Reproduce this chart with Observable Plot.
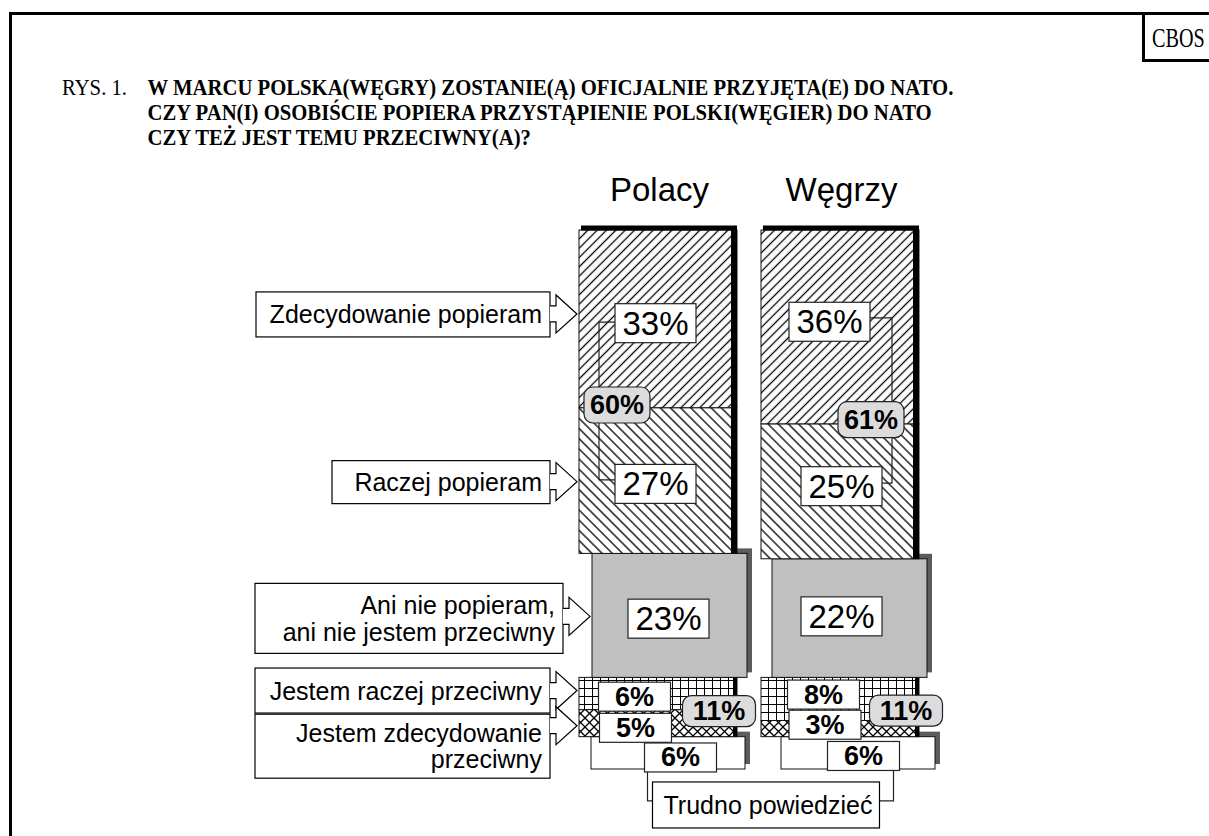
<!DOCTYPE html>
<html lang="pl"><head><meta charset="utf-8">
<script src="https://cdn.jsdelivr.net/npm/d3@7"></script>
<script src="https://cdn.jsdelivr.net/npm/@observablehq/plot@0.6"></script>
<style>
html,body{margin:0;padding:0;background:#fff}
body{width:1209px;height:836px;position:relative;overflow:hidden}
#frame{position:absolute;left:9px;top:12px;width:1260px;height:900px;border-left:3px solid #000;border-top:3px solid #000;box-sizing:border-box}
#cbos{position:absolute;left:1142px;top:12px;width:100px;height:50px;border:3px solid #000;box-sizing:border-box;color:#000}
#cbos span{position:absolute;left:7px;top:9px;font:28px/28px "Liberation Serif",serif;transform:scaleX(0.72);transform-origin:0 0;white-space:nowrap}
#title{position:absolute;left:62px;top:75px;font-family:"Liberation Serif",serif;font-size:23px;line-height:25px;color:#000}
#title .row{white-space:nowrap;position:relative;padding-left:95px;transform:scaleX(0.9);transform-origin:0 0}
#title .rys{position:absolute;left:0;top:0;font-weight:normal}
#chart{position:absolute;left:0;top:160px}
</style></head>
<body>
<div id="frame"></div>
<div id="cbos"><span></span></div>
<div id="title"></div>
<div id="chart"></div>
<script>
// ---------- data ----------
const source = "CBOS";
const titleRys = "RYS. 1.";
const titleLines = [
  "W MARCU POLSKA(WĘGRY) ZOSTANIE(Ą) OFICJALNIE PRZYJĘTA(E) DO NATO.",
  "CZY PAN(I) OSOBIŚCIE POPIERA PRZYSTĄPIENIE POLSKI(WĘGIER) DO NATO",
  "CZY TEŻ JEST TEMU PRZECIWNY(A)?"
];
const groups = ["Polacy", "Węgrzy"];
const categoryLines = [
  ["Zdecydowanie popieram"],
  ["Raczej popieram"],
  ["Ani nie popieram,", "ani nie jestem przeciwny"],
  ["Jestem raczej przeciwny"],
  ["Jestem zdecydowanie", "przeciwny"],
  ["Trudno powiedzieć"]
];
const polacy = [33, 27, 23, 6, 5, 6];
const wegrzy = [36, 25, 22, 8, 3, 6];
const popieraRazem = [60, 61];
const przeciwRazem = [11, 11];

// ---------- header (HTML) ----------
document.querySelector("#cbos span").textContent = source;
const T = document.getElementById("title");
titleLines.forEach((line, i) => {
  const row = document.createElement("div");
  row.className = "row";
  if (i === 0) { const r = document.createElement("span"); r.className = "rys"; r.textContent = titleRys; row.appendChild(r); }
  const b = document.createElement("b"); b.textContent = line; row.appendChild(b);
  T.appendChild(row);
});

// ---------- derived tables ----------
const series = {"Polacy": polacy, "Węgrzy": wegrzy};
const rows = groups.flatMap((g, gi) => {
  let acc = 0;
  return series[g].map((v, ci) => { const r = {group: g, gi, ci, value: v, y1: acc, y2: acc + v}; acc += v; return r; });
});
const supportRows = groups.map((g, gi) => ({group: g, gi, value: popieraRazem[gi], y: series[g][0], kind: "sup"}));
const opposeRows = groups.map((g, gi) => ({group: g, gi, value: przeciwRazem[gi], y: series[g][0] + series[g][1] + series[g][2] + series[g][3], kind: "opp"}));
const edgeRows = groups.map(g => ({group: g, y1: 0, y2: series[g][0] + series[g][1]}));
const lowEdgeRows = groups.map(g => { const s = series[g]; const a = s[0] + s[1] + s[2]; return {group: g, y1: a, y2: a + s[3] + s[4]}; });

// ---------- layout / style ----------
const FONT = "Liberation Sans, Arial, sans-serif";
const fills = ["url(#pUp)", "url(#pDown)", "#c0c0c0", "url(#pGrid)", "url(#pCross)", "#ffffff"];
const shift = {gray: {"Polacy": 13, "Węgrzy": 11}, trudno: {"Polacy": 12, "Węgrzy": 20}};
const labelOffsets = {
  "Polacy": [[-4, 1], [-4, 0], [9, 0], [-25, 0], [-24, 1.5], [21, 1.5]],
  "Węgrzy": [[-12, -8.5], [0, -8.5], [0, -5], [-18, -7.5], [-16.5, -7], [22, 0]]
};
const totalOffsets = {sup: [[-42.5, -6], [29.5, -7.5]], opp: [[59.5, -1.7], [64.5, -13]]};

function raised(ci, key) {
  return groups.flatMap(g => {
    const data = rows.filter(r => r.ci === ci && r.group === g);
    const dx = shift[key][g];
    const ir = key === "gray" ? 5 : 6;
    return [
      Plot.barY(data, {x: "group", y1: "y1", y2: "y2", dx: dx + 5, dy: -5, insetRight: ir, fill: "#5c5c5c"}),
      Plot.barY(data, {x: "group", y1: "y1", y2: "y2", dx, insetRight: ir, fill: fills[ci], stroke: "#111", strokeWidth: 1})
    ];
  });
}

const labelMarks = rows.map(r => {
  const [ox, oy] = labelOffsets[r.group][r.ci];
  const big = r.ci <= 2;
  return Plot.text([r], {
    x: "group", y: d => (d.y1 + d.y2) / 2, text: d => d.value + "%",
    dx: ox, dy: oy + (big ? 3.7 : 3), fontSize: big ? 33 : 27, fontWeight: big ? "normal" : "bold",
    fontFamily: FONT, fill: "#000", className: `lab-g${r.gi}-c${r.ci}`
  });
});
const totalMarks = [...supportRows, ...opposeRows].map(r => {
  const [ox, oy] = totalOffsets[r.kind][r.gi];
  return Plot.text([r], {
    x: "group", y: "y", text: d => d.value + "%", dx: ox, dy: oy + 3,
    fontSize: 27, fontWeight: "bold", fontFamily: FONT, fill: "#000", className: `tot-${r.kind}-g${r.gi}`
  });
});

const chart = Plot.plot({
  width: 1209, height: 676,
  marginTop: 0, marginBottom: 0, marginLeft: 0, marginRight: 0,
  x: {domain: groups, range: [579, 921], paddingInner: 0.121, paddingOuter: 0, axis: null},
  y: {domain: [0, 100], range: [70, 609], axis: null},
  style: {fontFamily: FONT, background: "transparent", overflow: "visible"},
  marks: [
    ...raised(5, "trudno"),
    Plot.barY(rows.filter(r => r.ci === 3 || r.ci === 4), {x: "group", y1: "y1", y2: "y2", insetRight: 2, fill: d => fills[d.ci], stroke: "#111", strokeWidth: 1}),
    Plot.barY(lowEdgeRows, {x: "group", y1: "y1", y2: "y2", insetLeft: 154, insetRight: 2, fill: "#000"}),
    ...raised(2, "gray"),
    Plot.barY(rows.filter(r => r.ci <= 1), {x: "group", y1: "y1", y2: "y2", insetRight: 2, fill: d => fills[d.ci], stroke: "#111", strokeWidth: 1}),
    Plot.barY(edgeRows, {x: "group", y1: "y1", y2: "y2", insetLeft: 152, insetRight: 2, fill: "#000"}),
    Plot.tickY(edgeRows, {x: "group", y: "y1", dy: -2.5, insetLeft: 2, insetRight: 2, stroke: "#000", strokeWidth: 5}),
    Plot.text(groups, {x: d => d, y: () => 0, dy: -30, lineAnchor: "bottom", text: d => d, fontSize: 33, fontFamily: FONT, fill: "#000"}),
    ...labelMarks,
    ...totalMarks
  ]
});
document.getElementById("chart").appendChild(chart);

// ---------- patterns ----------
const ns = "http://www.w3.org/2000/svg";
const defs = document.createElementNS(ns, "defs");
defs.innerHTML = `
<pattern id="pUp" patternUnits="userSpaceOnUse" width="6.6" height="6.6" patternTransform="rotate(45)">
  <rect width="6.6" height="6.6" fill="#fff"/><line x1="3.3" y1="0" x2="3.3" y2="6.6" stroke="#000" stroke-width="1.3"/></pattern>
<pattern id="pDown" patternUnits="userSpaceOnUse" width="7.2" height="7.2" patternTransform="rotate(-45)">
  <rect width="7.2" height="7.2" fill="#fff"/><line x1="3.6" y1="0" x2="3.6" y2="7.2" stroke="#000" stroke-width="1.3"/></pattern>
<pattern id="pGrid" patternUnits="userSpaceOnUse" width="8" height="8">
  <rect width="8" height="8" fill="#fff"/><path d="M0 0.5H8M0.5 0V8" stroke="#000" stroke-width="1"/></pattern>
<pattern id="pCross" patternUnits="userSpaceOnUse" width="9" height="9">
  <rect width="9" height="9" fill="#fff"/><path d="M0 0L9 9M9 0L0 9" stroke="#000" stroke-width="1.3"/></pattern>`;
chart.insertBefore(defs, chart.firstChild);

// ---------- label boxes ----------
const boxes = {};
function boxify(cls, w, h, rx, fill) {
  chart.querySelectorAll(`.${cls} text`).forEach(t => {
    const b = t.getBBox();
    const r = document.createElementNS(ns, "rect");
    r.setAttribute("x", b.x + b.width / 2 - w / 2);
    r.setAttribute("y", b.y + b.height / 2 - h / 2);
    r.setAttribute("width", w); r.setAttribute("height", h);
    r.setAttribute("rx", rx);
    r.setAttribute("fill", fill); r.setAttribute("stroke", "#222"); r.setAttribute("stroke-width", 1.2);
    if (t.getAttribute("transform")) r.setAttribute("transform", t.getAttribute("transform"));
    t.parentNode.insertBefore(r, t);
    boxes[cls] = r;
  });
}
rows.forEach(r => {
  const cls = `lab-g${r.gi}-c${r.ci}`;
  if (r.ci <= 2) boxify(cls, 81, 39, 0, "#fff"); else boxify(cls, 72, 29, 0, "#fff");
});
supportRows.forEach(r => boxify(`tot-sup-g${r.gi}`, 66, 36, 9, "#dcdcdc"));
opposeRows.forEach(r => boxify(`tot-opp-g${r.gi}`, 73, 31, 9, "#dcdcdc"));

const svgBox = chart.getBoundingClientRect();
function rb(cls) { const q = boxes[cls].getBoundingClientRect(); return {l: q.left - svgBox.left, r: q.right - svgBox.left, t: q.top - svgBox.top, b: q.bottom - svgBox.top, cy: (q.top + q.bottom) / 2 - svgBox.top}; }

// ---------- brackets (drawn under labels) ----------
const firstLabel = chart.querySelector(".lab-g0-c0");
const br = document.createElementNS(ns, "g");
br.setAttribute("fill", "none"); br.setAttribute("stroke", "#222"); br.setAttribute("stroke-width", 1.2);
chart.insertBefore(br, firstLabel);
{
  const a = rb("lab-g0-c0"), b = rb("lab-g0-c1");
  const x = Math.min(a.l, b.l) - 16;
  const p = document.createElementNS(ns, "path");
  p.setAttribute("d", `M${a.l},${a.cy - 1}H${x}V${b.cy - 4}H${b.l}`); br.appendChild(p);
}
{
  const a = rb("lab-g1-c0"), b = rb("lab-g1-c1");
  const x = Math.max(a.r, b.r) + 10;
  const p = document.createElementNS(ns, "path");
  p.setAttribute("d", `M${a.r},${a.cy - 4}H${x}V${b.cy - 3}H${b.r}`); br.appendChild(p);
}

// ---------- category legend ----------
const yS = chart.scale("y");
const segMid = ci => { const r = rows.find(d => d.group === groups[0] && d.ci === ci); return yS.apply((r.y1 + r.y2) / 2); };
const legendLayout = [
  {x0: 256, x1: 550, h: 45, shift: -4.5, tip: -5, gap: 26},
  {x0: 332, x1: 550, h: 43, shift: 1.5, tip: 1, gap: 26},
  {x0: 255, x1: 563, h: 70, shift: 3, tip: 1, gap: 27},
  {x0: 255, x1: 550, h: 45, shift: -3, tip: -3, gap: 26},
  {x0: 255, x1: 550, h: 64, shift: 23, tip: 2.5, gap: 26}
];
const lg = d3.select(chart).append("g").attr("font-family", FONT).attr("font-size", 25).attr("fill", "#000");
legendLayout.forEach((L, ci) => {
  const m = segMid(ci), c = m + L.shift, tip = m + L.tip, bx = L.x1;
  lg.append("rect").attr("x", L.x0).attr("y", c - L.h / 2).attr("width", L.x1 - L.x0).attr("height", L.h)
    .attr("fill", "#fff").attr("stroke", "#000").attr("stroke-width", 1.2);
  lg.append("path").attr("d", `M${bx},${tip - 8}H${bx + 6}V${tip - 19}L${bx + 27},${tip}L${bx + 6},${tip + 19}V${tip + 8}H${bx}`)
    .attr("fill", "#fff").attr("stroke", "#000").attr("stroke-width", 1.2);
  const lines = categoryLines[ci], n = lines.length;
  lines.forEach((s, i) => {
    lg.append("text").attr("x", L.x1 - 8).attr("y", c + (i - (n - 1) / 2) * L.gap + 9)
      .attr("text-anchor", "end").attr("stroke", "none").text(s);
  });
});

// Trudno powiedzieć legend + connectors
{
  const a = rb("lab-g0-c5"), b = rb("lab-g1-c5");
  const boxL = a.l + 8, boxR = b.r - 20, boxT = a.b + 10, boxB = boxT + 46, mid = (boxT + boxB) / 2 - 4;
  lg.append("path").attr("fill", "none").attr("stroke", "#222").attr("stroke-width", 1.2)
    .attr("d", `M${a.l + 3},${a.b}V${mid}H${boxL} M${b.r - 6},${b.b}V${mid}H${boxR}`);
  lg.append("rect").attr("x", boxL).attr("y", boxT).attr("width", boxR - boxL).attr("height", boxB - boxT)
    .attr("fill", "#fff").attr("stroke", "#000").attr("stroke-width", 1.2);
  lg.append("text").attr("x", (boxL + boxR) / 2 + 2).attr("y", (boxT + boxB) / 2 + 9).attr("text-anchor", "middle").text(categoryLines[5][0]);
}
</script>
</body></html>
